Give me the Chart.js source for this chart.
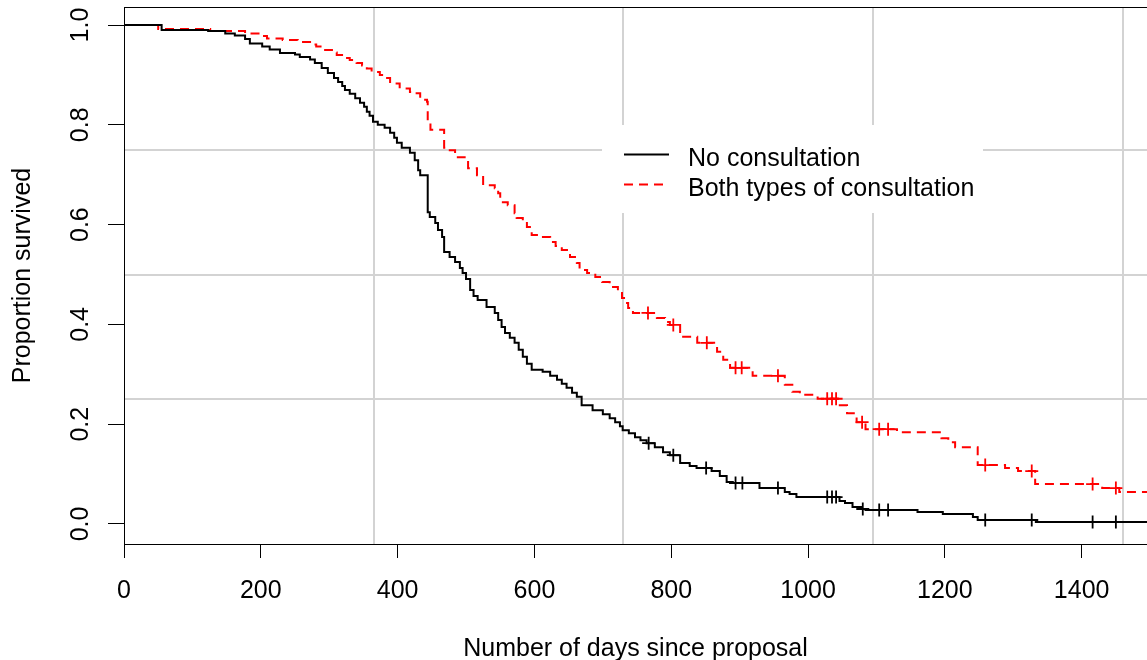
<!DOCTYPE html>
<html>
<head>
<meta charset="utf-8">
<script src="https://cdn.jsdelivr.net/npm/chart.js@4.4.1/dist/chart.umd.min.js"></script>
<style>
html,body{margin:0;padding:0;background:#fff;overflow:hidden;}
canvas{display:block;}
</style>
</head>
<body>
<canvas id="c" width="1147" height="660" style="width:1147px;height:660px"></canvas>
<script>
// ---- data ----
const seriesLabels = ["No consultation", "Both types of consultation"];

const blackTimes = [0,55,123,148,162,177,184,202,213,228,
  250,257,272,279,289,298,307,313,319,323,
  330,338,345,351,355,359,364,371,381,389,
  395,399,406,418,425,430,433,444,447,455,
  459,465,468,476,484,491,495,500,506,511,
  517,530,542,547,552,557,564,571,577,583,
  589,596,612,623,633,640,647,655,662,669,
  685,700,710,718,725,729,738,747,755,764,
  776,788,798,813,827,837,859,871,881,890,
  929,966,973,983,1046,1054,1065,1078,1084,1160,
  1197,1241,1248,1333,1500];
const blackSurv = [1.0,0.990,0.988,0.983,0.979,0.972,0.963,0.957,0.951,0.944,
  0.941,0.936,0.931,0.924,0.914,0.904,0.894,0.886,0.878,0.870,
  0.862,0.853,0.844,0.836,0.826,0.818,0.806,0.800,0.794,0.784,
  0.774,0.764,0.754,0.744,0.729,0.709,0.699,0.625,0.615,0.603,
  0.589,0.575,0.545,0.535,0.525,0.513,0.503,0.491,0.469,0.457,
  0.449,0.435,0.423,0.409,0.395,0.383,0.373,0.363,0.349,0.335,
  0.321,0.309,0.305,0.297,0.289,0.281,0.273,0.263,0.255,0.238,
  0.228,0.220,0.212,0.204,0.196,0.188,0.182,0.174,0.168,0.162,
  0.154,0.144,0.138,0.122,0.116,0.112,0.106,0.096,0.084,0.082,
  0.072,0.064,0.060,0.054,0.046,0.042,0.034,0.030,0.028,0.024,
  0.020,0.014,0.008,0.004,0.004];
const blackCensorTimes = [767,803,851,894,904,956,1028,1035,1041,1080,1104,1117,1259,1327,1416,1450];
const blackCensorSurv  = [0.162,0.138,0.112,0.082,0.082,0.072,0.054,0.054,0.054,0.030,0.028,0.028,0.008,0.008,0.004,0.004];

const redTimes = [0,50,126,177,202,209,232,254,272,281,
  294,304,311,323,330,340,348,355,362,374,
  381,389,403,418,425,433,443,444,448,468,
  474,484,488,498,503,516,525,542,547,550,
  561,571,574,583,589,596,608,623,631,640,
  652,662,666,677,689,699,710,722,728,731,
  737,744,779,791,798,813,838,867,876,886,
  919,966,977,988,1014,1044,1057,1071,1084,1130,
  1195,1205,1215,1248,1288,1307,1332,1430,1455,1500];
const redSurv = [1.0,0.992,0.988,0.983,0.978,0.973,0.970,0.966,0.961,0.957,
  0.950,0.945,0.940,0.934,0.930,0.924,0.919,0.913,0.906,0.900,
  0.894,0.883,0.873,0.866,0.863,0.850,0.846,0.803,0.790,0.754,
  0.749,0.741,0.735,0.729,0.713,0.699,0.679,0.673,0.663,0.645,
  0.639,0.623,0.613,0.603,0.595,0.579,0.575,0.565,0.557,0.549,
  0.535,0.523,0.509,0.503,0.495,0.485,0.475,0.463,0.453,0.443,
  0.433,0.423,0.413,0.405,0.399,0.375,0.363,0.345,0.329,0.313,
  0.297,0.279,0.265,0.259,0.251,0.238,0.222,0.204,0.190,0.184,
  0.172,0.164,0.154,0.118,0.112,0.106,0.080,0.072,0.064,0.064];
const redCensorTimes = [766,803,852,894,903,956,1028,1035,1041,1079,1104,1117,1259,1327,1416,1450];
const redCensorSurv  = [0.423,0.399,0.363,0.313,0.313,0.297,0.251,0.251,0.251,0.204,0.190,0.190,0.118,0.106,0.080,0.072];

const xTickValues = [0,200,400,600,800,1000,1200,1400];
const yTickValues = [0.0,0.2,0.4,0.6,0.8,1.0];
const xGridValues = [365,730,1095,1460];
const yGridValues = [0.25,0.5,0.75];

const xTitle = "Number of days since proposal";
const yTitle = "Proportion survived";

// ---- helpers ----
const pts = (xs, ys) => xs.map((x, i) => ({x: x, y: ys[i]}));
const FONT = "'Liberation Sans', Arial, sans-serif";
const X_MIN = 0, X_MAX = 1495.5, Y_MIN = -0.0401, Y_MAX = 1.0361;
const noPad = (s) => { s.paddingTop = 0; s.paddingBottom = 0; s.paddingLeft = 0; s.paddingRight = 0; };

const legendPlugin = {
  id: 'rLegend',
  afterDatasetsDraw(chart) {
    const ctx = chart.ctx;
    ctx.save();
    ctx.fillStyle = '#ffffff';
    ctx.fillRect(602, 125, 381, 88);
    const rows = [154, 184];
    for (let i = 0; i < 2; i++) {
      const ds = chart.data.datasets[i];
      ctx.strokeStyle = ds.borderColor;
      ctx.lineWidth = ds.borderWidth;
      ctx.setLineDash(ds.borderDash || []);
      ctx.beginPath();
      ctx.moveTo(624, rows[i] + 0.5);
      ctx.lineTo(669, rows[i] + 0.5);
      ctx.stroke();
      ctx.setLineDash([]);
      ctx.fillStyle = '#000';
      ctx.font = '25px ' + FONT;
      ctx.textAlign = 'left';
      ctx.textBaseline = 'alphabetic';
      ctx.fillText(ds.label, 688, rows[i] + 11.5);
    }
    ctx.restore();
  }
};

new Chart(document.getElementById('c'), {
  type: 'line',
  data: {
    datasets: [
      {label: seriesLabels[0], data: pts(blackTimes, blackSurv), borderColor: '#000000',
       borderWidth: 2, stepped: true, pointRadius: 0, fill: false, tension: 0},
      {label: seriesLabels[1], data: pts(redTimes, redSurv), borderColor: '#ff0000',
       borderWidth: 2, borderDash: [9, 6], stepped: true, pointRadius: 0, fill: false, tension: 0},
      {label: 'censor0', data: pts(blackCensorTimes, blackCensorSurv), showLine: false,
       pointStyle: 'cross', pointRadius: 6.5, pointBorderWidth: 1.8, borderColor: '#000000', backgroundColor: '#000000'},
      {label: 'censor1', data: pts(redCensorTimes, redCensorSurv), showLine: false,
       pointStyle: 'cross', pointRadius: 6.5, pointBorderWidth: 1.8, borderColor: '#ff0000', backgroundColor: '#ff0000'}
    ]
  },
  options: {
    responsive: false,
    animation: false,
    events: [],
    layout: {autoPadding: false, padding: {top: 7, left: 0, right: 0, bottom: 0}},
    plugins: {legend: {display: false}, tooltip: {enabled: false}},
    scales: {
      x: {
        type: 'linear', position: 'bottom', min: X_MIN, max: X_MAX,
        afterBuildTicks: (s) => { s.ticks = xTickValues.map(v => ({value: v})); },
        afterFit: (s) => { s.height = 116; noPad(s); },
        grid: {drawOnChartArea: false, drawTicks: true, tickLength: 14, tickColor: '#000', tickWidth: 1},
        border: {display: true, color: '#000', width: 1},
        ticks: {color: '#000', font: {size: 25, family: FONT}, padding: 18, maxRotation: 0, autoSkip: false,
                callback: (v) => String(v)},
        title: {display: true, text: xTitle, color: '#000', font: {size: 25, family: FONT, lineHeight: 1.1},
                padding: {top: 0, bottom: -3}}
      },
      y: {
        type: 'linear', position: 'left', min: Y_MIN, max: Y_MAX,
        afterBuildTicks: (s) => { s.ticks = yTickValues.map(v => ({value: v})); },
        afterFit: (s) => { s.width = 124; noPad(s); },
        grid: {drawOnChartArea: false, drawTicks: true, tickLength: 16, tickColor: '#000', tickWidth: 1},
        border: {display: true, color: '#000', width: 1},
        ticks: {color: '#000', font: {size: 25, family: FONT}, padding: 10, minRotation: 90, maxRotation: 90,
                crossAlign: 'center', autoSkip: false, callback: (v) => Number(v).toFixed(1)},
        title: {display: true, text: yTitle, color: '#000', font: {size: 25, family: FONT, lineHeight: 1.1},
                padding: {top: 9, bottom: 0}}
      },
      xt: {
        type: 'linear', position: 'top', min: X_MIN, max: X_MAX,
        afterFit: (s) => { s.height = 0; noPad(s); },
        grid: {display: false, drawTicks: false},
        border: {display: true, color: '#000', width: 1},
        ticks: {display: false}
      },
      xg: {
        type: 'linear', position: 'bottom', min: X_MIN, max: X_MAX,
        afterBuildTicks: (s) => { s.ticks = xGridValues.map(v => ({value: v})); },
        afterFit: (s) => { s.height = 0; noPad(s); },
        grid: {display: true, drawOnChartArea: true, drawTicks: false, color: '#d3d3d3', lineWidth: 2},
        border: {display: false},
        ticks: {display: false}
      },
      yg: {
        type: 'linear', position: 'left', min: Y_MIN, max: Y_MAX,
        afterBuildTicks: (s) => { s.ticks = yGridValues.map(v => ({value: v})); },
        afterFit: (s) => { s.width = 0; noPad(s); },
        grid: {display: true, drawOnChartArea: true, drawTicks: false, color: '#d3d3d3', lineWidth: 2},
        border: {display: false},
        ticks: {display: false}
      }
    }
  },
  plugins: [legendPlugin]
});
</script>
</body>
</html>
